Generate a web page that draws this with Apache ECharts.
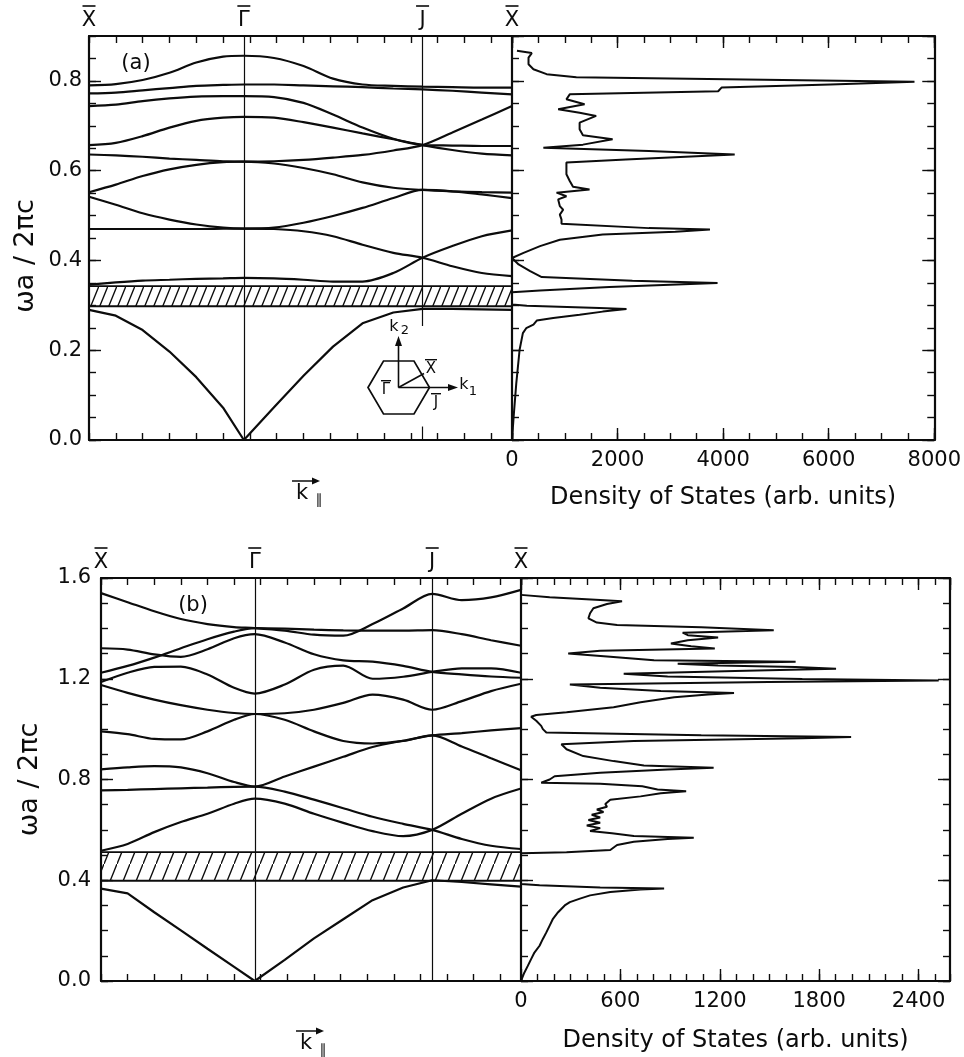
<!DOCTYPE html>
<html>
<head>
<meta charset="utf-8">
<script src="https://cdn.jsdelivr.net/npm/echarts@6/dist/echarts.min.js"></script>
<style>
  html, body { margin: 0; background: #fff; }
  #chart { width: 964px; height: 1057px; }
</style>
</head>
<body>
<div id="chart"></div>
<script>
// k along X - Gamma - J - X (hexagonal zone), ticks every 0.2
const K = [0, 0.2, 0.4, 0.6, 0.8, 1.0, 1.155, 1.38, 1.6, 1.82, 2.04, 2.27, 2.488, 2.71, 2.93, 3.155];
const K_MAX = 3.155;
const SYM_K = [0, 1.155, 2.488, 3.155];
const SYM_NAMES = ['X', '\u0393', 'J', 'X'];

// panel (a): bands, one value per K
const bandsA = [
  [0.790, 0.793, 0.802, 0.818, 0.841, 0.854, 0.856, 0.851, 0.833, 0.805, 0.792, 0.789, 0.787, 0.786, 0.785, 0.785],
  [0.772, 0.774, 0.779, 0.784, 0.789, 0.791, 0.792, 0.792, 0.790, 0.788, 0.786, 0.783, 0.781, 0.778, 0.774, 0.770],
  [0.744, 0.747, 0.755, 0.761, 0.765, 0.766, 0.766, 0.764, 0.751, 0.725, 0.696, 0.671, 0.657, 0.646, 0.638, 0.634],
  [0.657, 0.662, 0.677, 0.696, 0.711, 0.718, 0.720, 0.718, 0.708, 0.696, 0.683, 0.670, 0.657, 0.656, 0.655, 0.655],
  [0.636, 0.634, 0.631, 0.627, 0.624, 0.621, 0.620, 0.621, 0.624, 0.629, 0.635, 0.645, 0.657, 0.685, 0.714, 0.744],
  [0.552, 0.569, 0.588, 0.603, 0.613, 0.619, 0.620, 0.616, 0.606, 0.592, 0.574, 0.562, 0.557, 0.554, 0.552, 0.551],
  [0.542, 0.524, 0.505, 0.491, 0.480, 0.473, 0.471, 0.473, 0.484, 0.499, 0.517, 0.539, 0.557, 0.554, 0.547, 0.539],
  [0.470, 0.470, 0.470, 0.470, 0.470, 0.471, 0.471, 0.470, 0.465, 0.454, 0.435, 0.417, 0.406, 0.387, 0.372, 0.365],
  [0.346, 0.351, 0.355, 0.357, 0.359, 0.360, 0.361, 0.360, 0.357, 0.353, 0.353, 0.372, 0.406, 0.432, 0.454, 0.467],
];
const lowestA = [0.290, 0.277, 0.245, 0.197, 0.140, 0.072, 0, 0.073, 0.143, 0.208, 0.260, 0.284, 0.292, 0.292, 0.291, 0.290];
const gapA = [0.298, 0.343];

// panel (a): density of states, [omega, dos]
const dosA = [
  [0, 0], [0.052, 31], [0.126, 81], [0.201, 144], [0.238, 206], [0.249, 269], [0.257, 406], [0.266, 469],
  [0.272, 781], [0.279, 1281], [0.286, 1719], [0.292, 2169], [0.294, 1656], [0.299, 281], [0.302, 0],
  [0.329, 0], [0.333, 531], [0.341, 1844], [0.350, 3894], [0.355, 2281], [0.363, 563], [0.376, 344],
  [0.391, 125], [0.4055, 0], [0.417, 219], [0.432, 531], [0.446, 906], [0.458, 1719], [0.464, 3094],
  [0.469, 3750], [0.472, 2594], [0.482, 938], [0.491, 938], [0.502, 906], [0.513, 969], [0.521, 906],
  [0.536, 875], [0.543, 1031], [0.551, 844], [0.558, 1469], [0.564, 1156], [0.577, 1094], [0.592, 1031],
  [0.606, 1031], [0.618, 1031], [0.625, 2156], [0.636, 4219], [0.644, 2594], [0.651, 594], [0.658, 1344],
  [0.670, 1906], [0.679, 1344], [0.692, 1281], [0.707, 1281], [0.722, 1594], [0.729, 1281], [0.737, 875],
  [0.748, 1375], [0.759, 1031], [0.770, 1094], [0.777, 3906], [0.785, 3969], [0.792, 6031], [0.798, 7625],
  [0.808, 1219], [0.815, 656], [0.826, 406], [0.837, 313], [0.852, 313], [0.862, 375], [0.867, 94],
];

// panel (b): bands
const bandsB = [
  [1.540, 1.504, 1.468, 1.437, 1.417, 1.405, 1.401, 1.391, 1.375, 1.371, 1.417, 1.479, 1.537, 1.512, 1.523, 1.553],
  [1.224, 1.251, 1.284, 1.321, 1.357, 1.387, 1.401, 1.399, 1.395, 1.392, 1.391, 1.391, 1.393, 1.377, 1.353, 1.331],
  [1.321, 1.316, 1.297, 1.287, 1.317, 1.361, 1.377, 1.344, 1.297, 1.273, 1.268, 1.251, 1.227, 1.217, 1.209, 1.204],
  [1.187, 1.224, 1.247, 1.248, 1.217, 1.164, 1.141, 1.177, 1.236, 1.252, 1.200, 1.208, 1.227, 1.241, 1.241, 1.224],
  [1.175, 1.144, 1.117, 1.095, 1.077, 1.064, 1.060, 1.063, 1.077, 1.104, 1.137, 1.117, 1.077, 1.111, 1.151, 1.180],
  [0.991, 0.980, 0.961, 0.959, 0.991, 1.037, 1.060, 1.037, 0.991, 0.953, 0.943, 0.953, 0.975, 0.931, 0.884, 0.837],
  [0.840, 0.848, 0.853, 0.848, 0.825, 0.790, 0.772, 0.812, 0.851, 0.890, 0.929, 0.954, 0.975, 0.984, 0.995, 1.004],
  [0.757, 0.759, 0.762, 0.765, 0.768, 0.771, 0.772, 0.752, 0.720, 0.686, 0.652, 0.624, 0.600, 0.564, 0.537, 0.524],
  [0.517, 0.544, 0.591, 0.631, 0.664, 0.704, 0.724, 0.704, 0.664, 0.628, 0.595, 0.575, 0.600, 0.664, 0.724, 0.764],
];
const lowestB = [0.367, 0.348, 0.273, 0.201, 0.128, 0.056, 0, 0.084, 0.169, 0.245, 0.321, 0.371, 0.400, 0.393, 0.384, 0.375];
const gapB = [0.398, 0.512];

// panel (b): density of states, [omega, dos]
const dosB = [
  [0, 0], [0.033, 20], [0.060, 41], [0.087, 61], [0.113, 81], [0.140, 112], [0.167, 132], [0.193, 153],
  [0.220, 173], [0.247, 193], [0.273, 224], [0.300, 264], [0.313, 295], [0.327, 356], [0.340, 417],
  [0.353, 539], [0.363, 722], [0.367, 864], [0.371, 478], [0.380, 112], [0.385, 0], [0.507, 0],
  [0.511, 275], [0.520, 539], [0.540, 580], [0.553, 681], [0.564, 885], [0.569, 1043], [0.576, 681],
  [0.587, 549], [0.596, 417], [0.607, 478], [0.617, 397], [0.628, 478], [0.639, 407], [0.649, 478],
  [0.660, 427], [0.671, 498], [0.681, 458], [0.692, 519], [0.703, 509], [0.720, 539], [0.733, 722],
  [0.745, 844], [0.753, 997], [0.760, 824], [0.773, 732], [0.783, 478], [0.787, 122], [0.800, 173],
  [0.813, 203], [0.827, 478], [0.840, 885], [0.847, 1163], [0.856, 742], [0.873, 559], [0.893, 376],
  [0.920, 275], [0.940, 244], [0.953, 681], [0.964, 1698], [0.969, 1993], [0.976, 1088], [0.987, 153],
  [1.000, 132], [1.013, 122], [1.033, 92], [1.049, 61], [1.056, 92], [1.067, 275], [1.087, 559],
  [1.107, 722], [1.127, 925], [1.137, 1129], [1.143, 1286], [1.151, 844], [1.164, 478], [1.177, 295],
  [1.187, 1495], [1.193, 2522], [1.199, 1698], [1.209, 885], [1.220, 620], [1.231, 1292], [1.240, 1902],
  [1.247, 1658], [1.253, 1190], [1.260, 946], [1.267, 1658], [1.273, 803], [1.287, 539], [1.300, 285],
  [1.311, 478], [1.320, 1170], [1.329, 1027], [1.340, 905], [1.353, 1007], [1.364, 1190], [1.373, 1007],
  [1.383, 976], [1.393, 1526], [1.404, 1088], [1.413, 580], [1.423, 458], [1.440, 407], [1.460, 417],
  [1.480, 437], [1.497, 519], [1.508, 610], [1.513, 478], [1.524, 173], [1.533, 0],
];

const INK = '#0c0c0c';
const FONT = 'DejaVu Sans';

function hatch(w, h) {
  const c = document.createElement('canvas');
  c.width = w; c.height = h;
  const g = c.getContext('2d');
  g.strokeStyle = INK; g.lineWidth = 1.4;
  g.beginPath(); g.moveTo(-w, 2 * h); g.lineTo(2 * w, -h); g.stroke();
  return c;
}

function axis(grid, position, min, max, interval, tickLen, opts = {}) {
  return {
    type: 'value', gridIndex: grid, position, min, max, interval,
    axisLine: { show: opts.line !== false, onZero: false, lineStyle: { color: INK, width: 2.2 } },
    axisTick: { show: true, inside: true, length: tickLen, lineStyle: { color: INK, width: 1.4 } },
    axisLabel: opts.label
      ? { show: true, color: INK, fontFamily: FONT, fontSize: 21, margin: 8, ...opts.label }
      : { show: false },
    splitLine: { show: false },
    ...(opts.extra || {}),
  };
}

const symLabel = {
  customValues: SYM_K, margin: 5, fontSize: 21,
  formatter: (v) => SYM_NAMES[SYM_K.findIndex((s) => Math.abs(s - v) < 1e-6)] || '',
};
const dosLabel = (extra) => ({ margin: 10, formatter: (v) => String(v), ...extra });
const dosName = (gap) => ({
  name: 'Density of States (arb. units)', nameLocation: 'middle', nameGap: gap,
  nameTextStyle: { color: INK, fontFamily: FONT, fontSize: 24 },
});
const wName = (gap, shift) => ({
  name: '\u03c9a / 2\u03c0c', nameLocation: 'middle', nameGap: gap,
  nameTextStyle: { color: INK, fontFamily: FONT, fontSize: 27, padding: [0, shift, 0, 0] },
});

const xAxis = [
  axis(0, 'bottom', 0, K_MAX, 0.2, 7),
  axis(0, 'top', 0, K_MAX, 0.2, 7, { label: symLabel }),
  axis(1, 'bottom', 0, 8000, 2000, 12, { label: dosLabel({}), extra: dosName(46) }),
  axis(1, 'bottom', 0, 8000, 500, 7, { line: false }),
  axis(1, 'top', 0, 8000, 2000, 12),
  axis(1, 'top', 0, 8000, 500, 7, { line: false }),
  axis(2, 'bottom', 0, K_MAX, 0.2, 7),
  axis(2, 'top', 0, K_MAX, 0.2, 7, { label: symLabel }),
  axis(3, 'bottom', 0, 2590, 600, 12, { label: dosLabel({ showMaxLabel: false }), extra: dosName(48) }),
  axis(3, 'bottom', 0, 2590, 100, 7, { line: false }),
  axis(3, 'top', 0, 2590, 600, 12),
  axis(3, 'top', 0, 2590, 100, 7, { line: false }),
];
const yLbl = { formatter: (v) => v.toFixed(1), showMaxLabel: false, margin: 7 };
const yAxis = [
  axis(0, 'left', 0, 0.9, 0.2, 12, { label: yLbl, extra: wName(50, 36) }),
  axis(0, 'left', 0, 0.9, 0.05, 7, { line: false }),
  axis(1, 'left', 0, 0.9, 0.2, 12),
  axis(1, 'left', 0, 0.9, 0.05, 7, { line: false }),
  axis(1, 'right', 0, 0.9, 0.2, 12),
  axis(1, 'right', 0, 0.9, 0.05, 7, { line: false }),
  axis(2, 'left', 0, 1.6, 0.4, 12, { label: { formatter: (v) => v.toFixed(1), margin: 10 }, extra: wName(58, 0) }),
  axis(2, 'left', 0, 1.6, 0.1, 7, { line: false }),
  axis(3, 'left', 0, 1.6, 0.4, 12),
  axis(3, 'left', 0, 1.6, 0.1, 7, { line: false }),
  axis(3, 'right', 0, 1.6, 0.4, 12),
  axis(3, 'right', 0, 1.6, 0.1, 7, { line: false }),
];

const lineBase = { type: 'line', symbol: 'none', silent: true, lineStyle: { color: INK, width: 2.2 } };

function bandSeries(bands, lowest, xi, yi, gap, hatchImg, verticals) {
  const list = bands.map((b) => ({
    ...lineBase, xAxisIndex: xi, yAxisIndex: yi, smooth: 0.3,
    data: K.map((k, i) => [k, b[i]]),
  }));
  list.push({
    ...lineBase, xAxisIndex: xi, yAxisIndex: yi, smooth: false,
    data: K.map((k, i) => [k, lowest[i]]),
    markArea: {
      silent: true,
      itemStyle: { color: { image: hatchImg, repeat: 'repeat' }, borderColor: INK, borderWidth: 1.8 },
      data: [[{ coord: [0, gap[0]] }, { coord: [K_MAX, gap[1]] }]],
    },
    markLine: {
      silent: true, symbol: 'none', animation: false,
      label: { show: false },
      lineStyle: { color: INK, width: 1.2, type: 'solid' },
      data: verticals.map(([k, y0, y1]) => [{ coord: [k, y0] }, { coord: [k, y1] }]),
    },
  });
  return list;
}

const series = [
  ...bandSeries(bandsA, lowestA, 0, 0, gapA, hatch(9, 22),
    [[SYM_K[1], 0, 0.9], [SYM_K[2], 0.254, 0.9], [SYM_K[2], 0, 0.03]]),
  { ...lineBase, xAxisIndex: 2, yAxisIndex: 2, lineStyle: { color: INK, width: 2 },
    data: dosA.map(([w, d]) => [d, w]) },
  ...bandSeries(bandsB, lowestB, 6, 6, gapB, hatch(13, 32),
    [[SYM_K[1], 0, 1.6], [SYM_K[2], 0, 1.6]]),
  { ...lineBase, xAxisIndex: 8, yAxisIndex: 8, lineStyle: { color: INK, width: 2 },
    data: dosB.map(([w, d]) => [d, w]) },
];

const txt = (text, x, y, size, align = 'center') => ({
  type: 'text', silent: true,
  style: { text, x, y, fill: INK, font: `${size}px "${FONT}"`, align, textAlign: align,
    verticalAlign: 'middle', textVerticalAlign: 'middle' },
});
const seg = (x1, y1, x2, y2, w = 1.6) => ({
  type: 'line', silent: true, shape: { x1, y1, x2, y2 }, style: { stroke: INK, lineWidth: w },
});
const head = (pts) => ({ type: 'polygon', silent: true, shape: { points: pts }, style: { fill: INK } });
// letter with a bar over it
const barred = (text, x, y, size, half) => [txt(text, x, y, size), seg(x - half, y - size * 0.62, x + half, y - size * 0.62, 1.4)];

function kPar(x, y) {
  return [
    seg(x - 8, y - 13, x + 14, y - 13, 1.5),
    head([[x + 20, y - 13], [x + 12, y - 16.5], [x + 12, y - 9.5]]),
    txt('k', x + 2, y, 21),
    txt('\u2225', x + 19, y + 6, 14),
  ];
}

const graphic = [
  txt('(a)', 136, 64, 21),
  txt('(b)', 193, 606, 21),
  ...kPar(300, 494),
  ...kPar(304, 1044),
  // inset: hexagonal Brillouin zone
  { type: 'polygon', silent: true,
    shape: { points: [[368, 387.5], [383.5, 361], [414, 361], [429.5, 387.5], [414, 414], [383.5, 414]] },
    style: { fill: 'none', stroke: INK, lineWidth: 1.7 } },
  seg(398.5, 387.5, 398.5, 343),
  head([[398.5, 336], [395, 346], [402, 346]]),
  seg(398.5, 387.5, 450, 387.5),
  head([[458, 387.5], [448, 384], [448, 391]]),
  seg(398.5, 387.5, 424, 373.5),
  txt('k', 394, 327, 16), txt('2', 405, 331, 13),
  txt('k', 464, 385, 16), txt('1', 473, 392, 13),
  ...barred('X', 431, 369, 15, 6),
  ...barred('J', 436, 403, 15, 5),
  ...barred('\u0393', 386, 390, 15, 5),
];

const chart = echarts.init(document.getElementById('chart'));
chart.setOption({
  animation: false,
  backgroundColor: '#fff',
  grid: [
    { left: 89, top: 36, width: 423, height: 404 },
    { left: 512, top: 36, width: 426, height: 404 },
    { left: 101, top: 578, width: 420, height: 403 },
    { left: 521, top: 578, width: 429, height: 403 },
  ],
  xAxis, yAxis, series,
});

// bars over the symmetry-point labels, placed from the top k axes
const bars = [];
[[1, 36], [7, 578]].forEach(([xi, top]) => {
  SYM_K.forEach((k) => {
    const x = chart.convertToPixel({ xAxisIndex: xi }, k);
    bars.push(seg(x - 6.5, top - 30, x + 6.5, top - 30, 1.6));
  });
});
chart.setOption({ graphic: [...graphic, ...bars] });
</script>
</body>
</html>
